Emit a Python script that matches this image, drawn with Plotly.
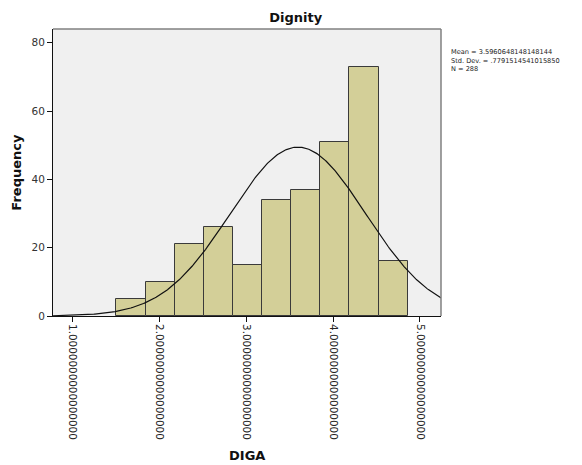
import numpy as np
import plotly.graph_objects as go

# Data
bin_start = 1.507
bin_width = 0.3352
counts = [5, 10, 21, 26, 15, 34, 37, 51, 73, 16]
mean = 3.5960648148148144
sd = 0.7791514541015850
n = 288
x_ticks = [1, 2, 3, 4, 5]
x_tick_labels = ["1.0000000000000000", "2.0000000000000000", "3.0000000000000000",
                 "4.0000000000000000", "5.0000000000000000"]
y_ticks = [0, 20, 40, 60, 80]
stats_lines = ["Mean = 3.5960648148148144", "Std. Dev. = .7791514541015850", "N = 288"]

x_range = [0.777, 5.243]
y_range = [0, 84]

centers = [bin_start + bin_width * (i + 0.5) for i in range(len(counts))]

xs = np.linspace(x_range[0], x_range[1], 400)
ys = n * bin_width * np.exp(-0.5 * ((xs - mean) / sd) ** 2) / (sd * np.sqrt(2 * np.pi))

fig = go.Figure()
fig.add_trace(go.Bar(
    x=centers, y=counts, width=[bin_width] * len(counts),
    marker=dict(color="#d3cf98", line=dict(color="#3a3a3a", width=1)),
    hoverinfo="skip", showlegend=False,
))
fig.add_trace(go.Scatter(
    x=xs, y=ys, mode="lines", line=dict(color="#111111", width=1.2),
    hoverinfo="skip", showlegend=False,
))

fig.update_layout(
    width=582, height=465,
    margin=dict(l=53, r=141, t=29, b=149),
    paper_bgcolor="white", plot_bgcolor="#f0f0f0",
    bargap=0,
    font=dict(family="DejaVu Sans", color="#222222"),
    title=dict(text="<b>Dignity</b>", x=0.508, xanchor="center", y=0.962, yanchor="middle",
               font=dict(size=13, color="#111111", family="DejaVu Sans")),
    xaxis=dict(range=x_range, tickvals=x_ticks, ticktext=x_tick_labels, tickangle=90,
               ticks="outside", ticklen=5, tickcolor="#111111", showgrid=False, zeroline=False,
               showline=True, linecolor="#111111", linewidth=1,
               tickfont=dict(size=10.4, color="#222222", family="DejaVu Sans")),
    yaxis=dict(range=y_range, tickvals=y_ticks, ticks="outside", ticklen=5, tickcolor="#111111",
               showgrid=False, zeroline=False, showline=True, linecolor="#111111", linewidth=1,
               tickfont=dict(size=10.5, color="#333333", family="DejaVu Sans")),
)

# top/right frame
fig.add_shape(type="line", xref="paper", yref="paper", x0=0, x1=1, y0=1, y1=1,
              line=dict(color="#808080", width=1.5))
fig.add_shape(type="line", xref="paper", yref="paper", x0=1, x1=1, y0=0, y1=1,
              line=dict(color="#808080", width=1.5))

# axis titles
fig.add_annotation(text="<b>Frequency</b>", xref="paper", yref="paper", x=-0.095, y=0.5,
                   textangle=-90, showarrow=False, xanchor="center", yanchor="middle",
                   font=dict(size=13, color="#111111", family="DejaVu Sans"))
fig.add_annotation(text="<b>DIGA</b>", xref="paper", yref="paper", x=0.5, y=-0.485,
                   showarrow=False, xanchor="center", yanchor="middle",
                   font=dict(size=13, color="#111111", family="DejaVu Sans"))

# stats
fig.add_annotation(
    text="<br>".join(stats_lines), xref="paper", yref="paper", x=1.02, y=(316 - 46) / 287,
    xanchor="left", yanchor="top", align="left", showarrow=False,
    font=dict(size=6.6, color="#222222", family="DejaVu Sans"))

fig.write_html("out.html")
